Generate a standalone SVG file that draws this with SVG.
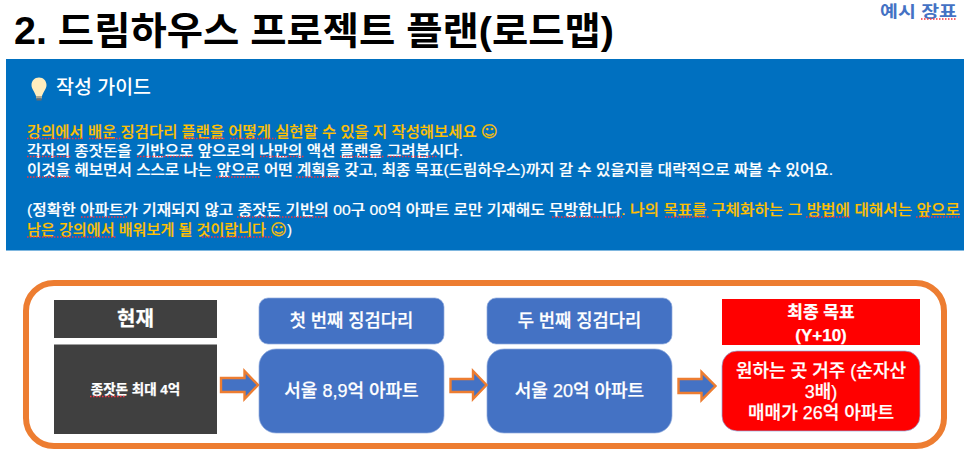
<svg xmlns="http://www.w3.org/2000/svg" width="977" height="456" viewBox="0 0 977 456">
<style>
text{font-family:"Liberation Sans","Noto Sans CJK KR",sans-serif}
.g{font-size:15px;font-weight:500;stroke-width:.2}
.w{fill:#fff;stroke:#fff}
.y{fill:#FFC000;stroke:#FFC000}
.c{text-anchor:middle;fill:#fff;font-weight:500;stroke:#fff;stroke-width:.25}
.b{font-weight:700}
.e{font-family:"DejaVu Sans",sans-serif;font-size:16px}
.s{fill:none;stroke:#F5333F;stroke-width:1.4;stroke-dasharray:1.5 1.5}
.blue{fill:#4472C4;stroke:#8FAADC;stroke-width:.7}
.arrow{fill:#4472C4;stroke:#ED7D31;stroke-width:2.4}
</style>
<rect width="977" height="456" fill="#fff"/>
<g id="title"><text x="14" y="44" font-size="38" font-weight="700" fill="#000" textLength="600" lengthAdjust="spacingAndGlyphs">2. 드림하우스 프로젝트 플랜(로드맵)</text></g>
<g id="tag"><text x="880" y="16.500" font-size="16" font-weight="700" fill="#4472C4" textLength="77" lengthAdjust="spacingAndGlyphs">예시 장표</text><path class="s" d="M921 19H957"/></g>
<g id="guide">
<rect x="6" y="59" width="958" height="191.500" fill="#0070C0"/>
<g id="bulb"><path d="M39 77.500c-4.500 0-7.500 3.500-7.500 7.500 0 4 3 6.500 4.500 11h6c1.500-4.500 4.500-7 4.500-11 0-4-3-7.500-7.500-7.500z" fill="#FFEDBE"/><rect x="36" y="96" width="6" height="2.500" fill="#B0A890"/><rect x="36.500" y="98.500" width="5" height="2" fill="#6B6B6B"/></g>
<text fill="#fff" x="56" y="94" font-size="19.500" font-weight="500" textLength="95" lengthAdjust="spacingAndGlyphs">작성 가이드</text>
<text class="g y" x="27" y="137" textLength="471" lengthAdjust="spacingAndGlyphs">강의에서 배운 징검다리 플랜을 어떻게 실현할 수 있을 지 작성해보세요 <tspan class="e">☺</tspan></text>
<text class="g w" x="27" y="155.500" textLength="436" lengthAdjust="spacingAndGlyphs">각자의 종잣돈을 기반으로 앞으로의 나만의 액션 플랜을 그려봅시다.</text>
<text class="g w" x="27" y="175" textLength="806" lengthAdjust="spacingAndGlyphs">이것을 해보면서 스스로 나는 앞으로 어떤 계획을 갖고, 최종 목표(드림하우스)까지 갈 수 있을지를 대략적으로 짜볼 수 있어요.</text>
<text class="g w" x="27" y="215" textLength="933" lengthAdjust="spacingAndGlyphs">(정확한 아파트가 기재되지 않고 종잣돈 기반의 00구 00억 아파트 로만 기재해도 무방합니다<tspan class="y">. 나의 목표를 구체화하는 그 방법에 대해서는 앞으로</tspan></text>
<text class="g y" x="27" y="235" textLength="265" lengthAdjust="spacingAndGlyphs">남은 강의에서 배워보게 될 것이랍니다 <tspan class="e">☺</tspan><tspan class="w">)</tspan></text>
<path class="s" d="M27 138.500H84M89 138.500H122M184 138.500H226M230 138.500H276M27 156.500H71M137 156.500H193M260 156.500H304M340 156.500H384M387 156.500H437M27 177H71M216 177H260M296 177H341M81 217H127M237 217H327M552 217H622M665 217H709M806 217H851M916 217H960M27 237H117M202 237H272"/>
</g>
<g id="frame"><rect x="26" y="283" width="918" height="163" rx="28" fill="#fff" stroke="#ED7D31" stroke-width="6"/></g>
<g id="now-head"><rect x="54" y="300" width="163" height="38" fill="#404040"/><text class="c b" x="135.500" y="326" font-size="20">현재</text></g>
<g id="now-body"><rect x="54" y="344.500" width="163" height="89.500" fill="#404040"/><text class="c b" x="135.500" y="394" font-size="13.500">종잣돈 최대 4억</text><path class="s" d="M90 396.500H126"/></g>
<g id="step1-head"><rect class="blue" x="259" y="298" width="185" height="46" rx="9"/><text class="c" x="351.500" y="327" font-size="17.700">첫 번째 징검다리</text></g>
<g id="step1-body"><rect class="blue" x="259" y="349" width="185" height="84" rx="17"/><text class="c" x="351.500" y="397" font-size="18">서울 8,9억 아파트</text></g>
<g id="step2-head"><rect class="blue" x="487" y="298" width="185" height="46" rx="9"/><text class="c" x="579.500" y="327" font-size="17.700">두 번째 징검다리</text></g>
<g id="step2-body"><rect class="blue" x="487" y="349" width="185" height="84" rx="17"/><text class="c" x="579.500" y="397" font-size="18">서울 20억 아파트</text></g>
<g id="goal-head"><rect x="722" y="299" width="198" height="46" fill="#FF0000"/><text class="c b" x="821" y="318" font-size="17">최종 목표</text><text class="c b" x="821" y="341" font-size="17">(Y+10)</text></g>
<g id="goal-body"><rect x="722" y="351" width="198" height="80" rx="15" fill="#FF0000" stroke="#8FAADC" stroke-width=".7"/><text class="c" x="821" y="377" font-size="18">원하는 곳 거주 (순자산</text><text class="c" x="821" y="398" font-size="18">3배)</text><text class="c" x="821" y="419" font-size="18">매매가 26억 아파트</text></g>
<g id="connectors">
<path class="arrow" d="M221 378H244.500V371L258 385 244.500 399V392H221Z"/>
<path class="arrow" d="M450.500 379H473V371L486.500 385 473 399V392H450.500Z"/>
<path class="arrow" d="M678.500 379H701.500V372L715.500 386 701.500 400V393H678.500Z"/>
</g>
</svg>
